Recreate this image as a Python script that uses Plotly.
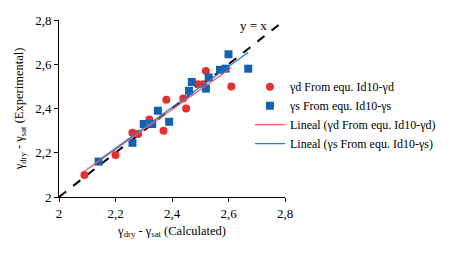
import numpy as np
import plotly.graph_objects as go

# Data
gd_calc = [2.09, 2.20, 2.26, 2.28, 2.32, 2.37, 2.38, 2.44, 2.45, 2.49, 2.51, 2.52, 2.61]
gd_exp  = [2.10, 2.19, 2.29, 2.285, 2.35, 2.30, 2.44, 2.445, 2.40, 2.51, 2.51, 2.57, 2.50]

gs_calc = [2.14, 2.26, 2.30, 2.33, 2.35, 2.39, 2.46, 2.47, 2.52, 2.53, 2.57, 2.59, 2.60, 2.67]
gs_exp  = [2.16, 2.245, 2.33, 2.33, 2.39, 2.34, 2.48, 2.52, 2.49, 2.54, 2.575, 2.58, 2.645, 2.58]

identity = [2.0, 2.8]
tick_vals = [2.0, 2.2, 2.4, 2.6, 2.8]

RED = "rgb(228,48,48)"
BLUE = "rgb(16,98,176)"
RED_LINE = "rgb(236,90,100)"
BLUE_LINE = "rgb(40,125,205)"

fig = go.Figure()

# y = x dashed line
fig.add_trace(go.Scatter(x=identity, y=identity, mode="lines",
                         line=dict(color="black", width=2, dash="dash"),
                         showlegend=False, hoverinfo="skip"))

fig.add_trace(go.Scatter(x=gd_calc, y=gd_exp, mode="markers",
                         marker=dict(symbol="circle", size=8, color=RED),
                         name="γd From equ. Id10-γd"))
fig.add_trace(go.Scatter(x=gs_calc, y=gs_exp, mode="markers",
                         marker=dict(symbol="square", size=8, color=BLUE),
                         name="γs From equ. Id10-γs"))

# linear trendlines fitted to the data
pd_ = np.polyfit(gd_calc, gd_exp, 1)
xd = [min(gd_calc), max(gd_calc)]
fig.add_trace(go.Scatter(x=xd, y=list(np.polyval(pd_, xd)), mode="lines",
                         line=dict(color=RED_LINE, width=1.3),
                         name="Lineal (γd From equ. Id10-γd)"))
ps_ = np.polyfit(gs_calc, gs_exp, 1)
xs = [min(gs_calc), max(gs_calc)]
fig.add_trace(go.Scatter(x=xs, y=list(np.polyval(ps_, xs)), mode="lines",
                         line=dict(color=BLUE_LINE, width=1.3),
                         name="Lineal (γs From equ. Id10-γs)"))

font = "Liberation Serif, Times New Roman, serif"

fig.add_annotation(x=2.69, y=2.777, text="y = x", showarrow=False,
                   xanchor="center", yanchor="middle",
                   font=dict(family=font, size=13, color="black"))

axis_common = dict(range=[2.0, 2.8], tickvals=tick_vals, showgrid=False,
                   zeroline=False, showline=True, linecolor="black", linewidth=1,
                   ticks="outside", ticklen=4, tickcolor="black", automargin=False,
                   tickfont=dict(family=font, size=13, color="black"))

fig.update_layout(
    width=445, height=245,
    margin=dict(l=51, r=165, t=12, b=56),
    paper_bgcolor="white", plot_bgcolor="white",
    separators=",.",
    font=dict(family=font, size=12, color="black"),
    xaxis=dict(**axis_common,
               title=dict(text="γ<sub>dry</sub> - γ<sub>sat</sub> (Calculated)",
                          font=dict(family=font, size=12.5), standoff=6)),
    yaxis=dict(**axis_common,
               title=dict(text="γ<sub>dry</sub> - γ<sub>sat</sub> (Experimental)",
                          font=dict(family=font, size=12.5), standoff=8)),
    legend=dict(x=0.845, y=0.705, xanchor="left", yanchor="top",
                font=dict(family=font, size=12, color="black"),
                bgcolor="rgba(0,0,0,0)", tracegroupgap=0, itemwidth=30),
    showlegend=True,
)

fig.write_html("out.html")
